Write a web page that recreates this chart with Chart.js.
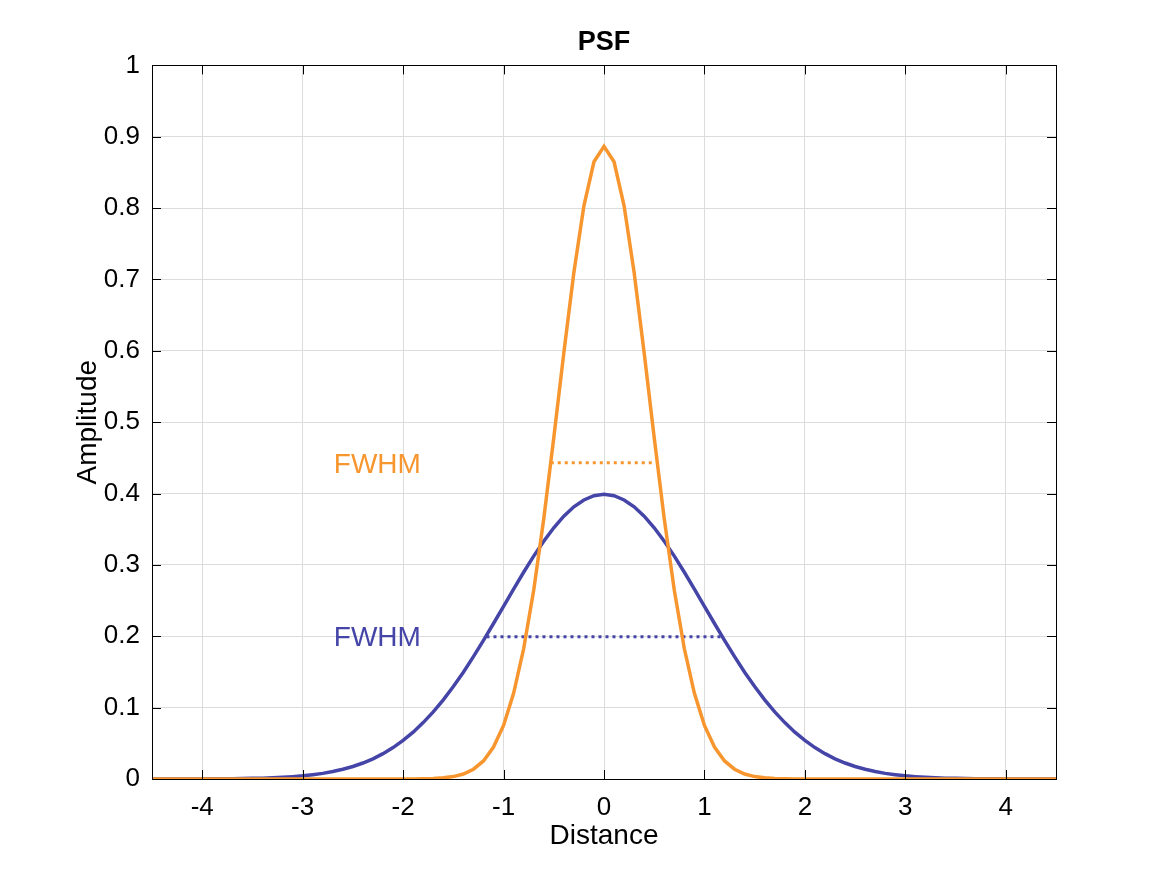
<!DOCTYPE html>
<html>
<head>
<meta charset="utf-8">
<script src="https://cdn.jsdelivr.net/npm/chart.js@4"></script>
<style>
  html, body { margin: 0; padding: 0; background: #fff; }
  #wrap { width: 1167px; height: 875px; }
</style>
</head>
<body>
<div id="wrap"><canvas id="psfCanvas"></canvas></div>
<script>
// sample positions (Distance)
const distance = [
  -4.5, -4.4, -4.3, -4.2, -4.1, -4.0, -3.9, -3.8, -3.7, -3.6,
  -3.5, -3.4, -3.3, -3.2, -3.1, -3.0, -2.9, -2.8, -2.7, -2.6,
  -2.5, -2.4, -2.3, -2.2, -2.1, -2.0, -1.9, -1.8, -1.7, -1.6,
  -1.5, -1.4, -1.3, -1.2, -1.1, -1.0, -0.9, -0.8, -0.7, -0.6,
  -0.5, -0.4, -0.3, -0.2, -0.1, 0.0, 0.1, 0.2, 0.3, 0.4,
  0.5, 0.6, 0.7, 0.8, 0.9, 1.0, 1.1, 1.2, 1.3, 1.4,
  1.5, 1.6, 1.7, 1.8, 1.9, 2.0, 2.1, 2.2, 2.3, 2.4,
  2.5, 2.6, 2.7, 2.8, 2.9, 3.0, 3.1, 3.2, 3.3, 3.4,
  3.5, 3.6, 3.7, 3.8, 3.9, 4.0, 4.1, 4.2, 4.3, 4.4, 4.5
];

// wide PSF (blue)
const widePsf = [
  0.0000, 0.0000, 0.0000, 0.0001, 0.0001, 0.0001, 0.0002, 0.0003, 0.0004, 0.0006,
  0.0009, 0.0012, 0.0017, 0.0024, 0.0033, 0.0044, 0.0060, 0.0079, 0.0104, 0.0136,
  0.0175, 0.0224, 0.0283, 0.0355, 0.0440, 0.0540, 0.0656, 0.0790, 0.0940, 0.1109,
  0.1295, 0.1497, 0.1714, 0.1942, 0.2179, 0.2420, 0.2661, 0.2897, 0.3123, 0.3332,
  0.3521, 0.3683, 0.3814, 0.3910, 0.3970, 0.3989, 0.3970, 0.3910, 0.3814, 0.3683,
  0.3521, 0.3332, 0.3123, 0.2897, 0.2661, 0.2420, 0.2179, 0.1942, 0.1714, 0.1497,
  0.1295, 0.1109, 0.0940, 0.0790, 0.0656, 0.0540, 0.0440, 0.0355, 0.0283, 0.0224,
  0.0175, 0.0136, 0.0104, 0.0079, 0.0060, 0.0044, 0.0033, 0.0024, 0.0017, 0.0012,
  0.0009, 0.0006, 0.0004, 0.0003, 0.0002, 0.0001, 0.0001, 0.0001, 0.0000, 0.0000, 0.0000
];

// narrow PSF (orange)
const narrowPsf = [
  0, 0, 0, 0, 0, 0, 0, 0, 0, 0,
  0, 0, 0, 0, 0, 0, 0, 0, 0, 0,
  0, 0, 0, 0, 0, 0, 0.0001, 0.0003, 0.0007, 0.0016,
  0.0034, 0.0070, 0.0137, 0.0253, 0.0447, 0.0751, 0.1200, 0.1825, 0.2644, 0.3645,
  0.4782, 0.5971, 0.7098, 0.8032, 0.8649, 0.8865, 0.8649, 0.8032, 0.7098, 0.5971,
  0.4782, 0.3645, 0.2644, 0.1825, 0.1200, 0.0751, 0.0447, 0.0253, 0.0137, 0.0070,
  0.0034, 0.0016, 0.0007, 0.0003, 0.0001, 0, 0, 0, 0, 0,
  0, 0, 0, 0, 0, 0, 0, 0, 0, 0,
  0, 0, 0, 0, 0, 0, 0, 0, 0, 0, 0
];

// FWHM markers: [x start, x end], height
const narrowFwhmX = [-0.53, 0.5];
const narrowFwhmY = 0.4433;
const wideFwhmX = [-1.17, 1.17];
const wideFwhmY = 0.1995;

const xTicks = [-4, -3, -2, -1, 0, 1, 2, 3, 4];
const yTicks = [0, 0.1, 0.2, 0.3, 0.4, 0.5, 0.6, 0.7, 0.8, 0.9, 1];

const orange = '#F7962F';
const blue = '#4545A8';
const fontFamily = '"Liberation Sans", Arial, Helvetica, sans-serif';

// text labels placed in data coordinates
const annotations = [
  { text: 'FWHM', x: -2.69, y: 0.443, color: orange },
  { text: 'FWHM', x: -2.69, y: 0.2, color: blue }
];

const toPoints = (xs, ys) => xs.map((x, i) => ({ x: x, y: ys[i] }));

// box, inward ticks and FWHM labels like a matlab axes
const matlabAxes = {
  id: 'matlabAxes',
  afterDatasetsDraw(chart) {
    const { ctx, chartArea: a, scales: { x, y } } = chart;
    ctx.save();
    ctx.strokeStyle = '#000';
    ctx.lineWidth = 1;
    ctx.beginPath();
    xTicks.forEach(v => {
      const px = Math.round(x.getPixelForValue(v)) + 0.5;
      ctx.moveTo(px, a.bottom); ctx.lineTo(px, a.bottom - 9);
      ctx.moveTo(px, a.top); ctx.lineTo(px, a.top + 9);
    });
    yTicks.forEach(v => {
      const py = Math.round(y.getPixelForValue(v)) + 0.5;
      ctx.moveTo(a.left, py); ctx.lineTo(a.left + 9, py);
      ctx.moveTo(a.right, py); ctx.lineTo(a.right - 9, py);
    });
    ctx.stroke();
    ctx.strokeRect(Math.round(a.left) + 0.5, Math.round(a.top) + 0.5,
      Math.round(a.right - a.left), Math.round(a.bottom - a.top));

    ctx.font = '28px ' + fontFamily;
    ctx.textAlign = 'left';
    ctx.textBaseline = 'middle';
    annotations.forEach(t => {
      ctx.fillStyle = t.color;
      ctx.fillText(t.text, x.getPixelForValue(t.x), y.getPixelForValue(t.y) + 2);
    });
    ctx.restore();
  }
};

const ctx = document.getElementById('psfCanvas').getContext('2d');
new Chart(ctx, {
  type: 'line',
  data: {
    datasets: [
      {
        label: 'narrow',
        data: toPoints(distance, narrowPsf),
        borderColor: orange,
        borderWidth: 3.5,
        pointRadius: 0,
        tension: 0
      },
      {
        label: 'narrow FWHM',
        data: toPoints(narrowFwhmX, [narrowFwhmY, narrowFwhmY]),
        borderColor: orange,
        borderWidth: 3,
        borderDash: [3, 4],
        pointRadius: 0
      },
      {
        label: 'wide FWHM',
        data: toPoints(wideFwhmX, [wideFwhmY, wideFwhmY]),
        borderColor: blue,
        borderWidth: 3,
        borderDash: [3, 4],
        pointRadius: 0
      },
      {
        label: 'wide',
        data: toPoints(distance, widePsf),
        borderColor: blue,
        borderWidth: 3.5,
        pointRadius: 0,
        tension: 0
      }
    ]
  },
  options: {
    responsive: true,
    maintainAspectRatio: false,
    animation: false,
    layout: { padding: { left: 41, right: 0, top: 0, bottom: 0 } },
    plugins: {
      legend: { display: false },
      tooltip: { enabled: false },
      title: {
        display: true,
        text: 'PSF',
        color: '#000',
        font: { family: fontFamily, size: 27, weight: 'bold' },
        padding: { top: 26, bottom: 7 }
      }
    },
    scales: {
      x: {
        type: 'linear',
        min: -4.5,
        max: 4.5,
        afterBuildTicks: s => { s.ticks = xTicks.map(v => ({ value: v })); },
        afterFit: s => { s.height = 96; },
        grid: { color: '#dcdcdc', drawTicks: false },
        border: { display: false },
        ticks: {
          color: '#000',
          padding: 13,
          maxRotation: 0,
          font: { family: fontFamily, size: 26 }
        },
        title: {
          display: true,
          text: 'Distance',
          color: '#000',
          padding: { top: 0, bottom: 22 },
          font: { family: fontFamily, size: 28 }
        }
      },
      y: {
        min: 0,
        max: 1,
        afterBuildTicks: s => { s.ticks = yTicks.map(v => ({ value: v })); },
        afterFit: s => { s.width = 111; },
        grid: { color: '#dcdcdc', drawTicks: false },
        border: { display: false },
        ticks: {
          color: '#000',
          padding: 12,
          font: { family: fontFamily, size: 26 },
          callback: v => String(+v.toFixed(1))
        },
        title: {
          display: true,
          text: 'Amplitude',
          color: '#000',
          padding: { top: 30, bottom: 0 },
          font: { family: fontFamily, size: 28 }
        }
      },
      yRight: {
        position: 'right',
        min: 0,
        max: 1,
        afterFit: s => { s.width = 111; },
        grid: { display: false },
        border: { display: false },
        ticks: { display: false }
      }
    }
  },
  plugins: [matlabAxes]
});
</script>
</body>
</html>
